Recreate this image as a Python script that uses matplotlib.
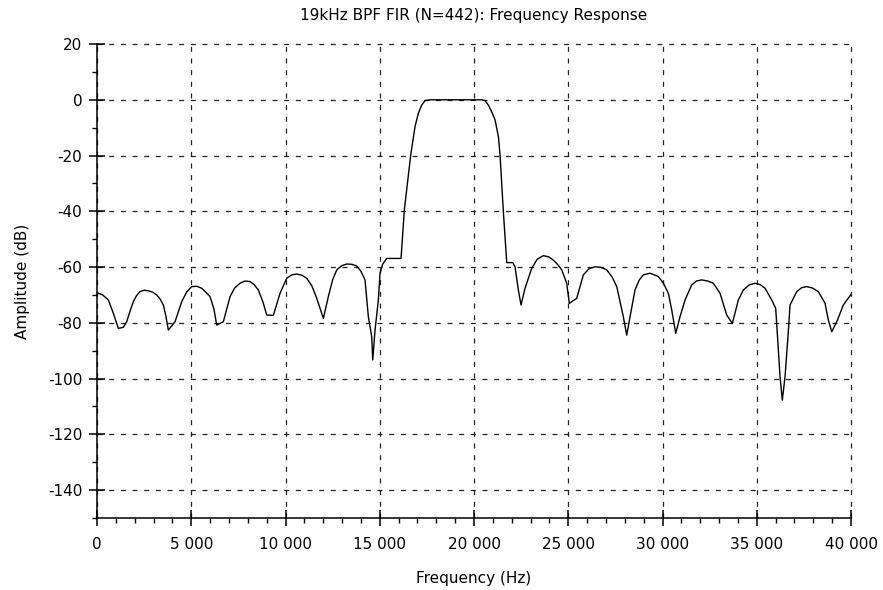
import matplotlib
matplotlib.use('Agg')
import matplotlib.pyplot as plt
import matplotlib.ticker as mticker
import numpy as np

# frequency response points (Hz, dB)
freq_hz = [
    0, 300, 600, 865, 1130, 1395, 1575, 1750, 1925, 2100, 2281, 2500, 2722,
    2950, 3167, 3350, 3517, 3650, 3783,
    4138, 4493, 4750, 5023, 5300, 5554, 5800, 5995, 6200, 6350,
    6700, 7056, 7300, 7586, 7850, 8117, 8350, 8557, 8800, 9003, 9353,
    9708, 10063, 10330, 10594, 10860, 11125, 11400, 11655, 12007,
    12271, 12500, 12716, 12980, 13246, 13510, 13777, 14000, 14217,
    14393, 14573, 14626, 14748, 14923, 15013, 15150, 15366,
    16127, 16303, 16641, 16870, 17047, 17224, 17400, 17665,
    20408, 20583, 20759, 20937, 21114, 21292, 21380, 21555, 21735,
    22052, 22175, 22351, 22493, 22706, 23061, 23350, 23676, 23950, 24206,
    24452, 24652, 24917, 25055, 25448, 25798, 26100, 26419, 26730, 27040,
    27320, 27570, 27920, 28100, 28276, 28541, 28760, 28981, 29337,
    29778, 30050, 30309, 30488, 30700, 30928, 31194, 31548, 31800, 32079,
    32400, 32695, 33050, 33405, 33705, 34022, 34288, 34600, 34907, 35180,
    35437, 35792, 36004, 36144, 36233, 36355, 36499, 36642, 36764,
    37119, 37380, 37649, 37950, 38265, 38621, 38796, 38977, 39242, 39592, 40000,
]
amp_db = [
    -69.2, -70.0, -71.8, -76.6, -82.0, -81.6, -79.6, -75.8, -72.4, -70.2, -68.8,
    -68.3, -68.5, -69.0, -70.0, -71.5, -73.6, -77.5, -82.6,
    -79.6, -72.4, -69.0, -67.0, -66.9, -67.6, -69.2, -70.6, -75.0, -80.8,
    -79.6, -70.6, -67.5, -65.8, -65.0, -65.2, -66.4, -68.2, -72.5, -77.2, -77.3,
    -69.4, -64.0, -62.8, -62.5, -62.9, -64.0, -66.8, -71.2, -78.4,
    -70.6, -64.5, -61.0, -59.5, -58.9, -59.0, -59.6, -61.5, -64.6,
    -77.8, -85.0, -93.3, -82.6, -71.8, -62.2, -59.0, -56.9,
    -56.9, -39.5, -19.8, -9.6, -4.8, -1.9, -0.3, 0.0,
    0.0, -0.3, -1.9, -4.3, -7.2, -13.2, -19.8, -40.1, -58.4,
    -58.4, -59.9, -68.2, -73.6, -67.6, -60.4, -57.2, -55.9, -56.3, -57.5,
    -59.2, -61.0, -65.8, -73.0, -71.2, -62.8, -60.6, -59.9, -60.1, -61.0,
    -63.5, -67.0, -77.8, -84.4, -77.8, -68.2, -64.7, -62.8, -62.2,
    -63.4, -65.8, -69.4, -75.4, -83.8, -77.8, -71.8, -66.4, -65.0, -64.6,
    -65.0, -65.8, -69.4, -77.2, -80.2, -71.8, -68.2, -66.4, -65.8, -66.3,
    -67.6, -71.8, -74.8, -89.7, -99.3, -107.7, -99.3, -86.2, -73.6,
    -68.8, -67.4, -67.0, -67.5, -68.8, -73.0, -79.0, -83.2, -79.6, -73.6, -69.8,
]

x_ticks = np.arange(0, 40001, 5000)
y_ticks = np.arange(-140, 21, 20)

plt.rcParams['font.family'] = ['DejaVu Sans']
plt.rcParams['axes.unicode_minus'] = False
plt.rcParams['lines.scale_dashes'] = False

fig = plt.figure(figsize=(8.83, 5.90), dpi=100)
ax = fig.add_axes([0.1099, 0.1220, 0.8539, 0.8034])

ax.plot(freq_hz, amp_db, color='black', linewidth=1.0)

ax.set_xlim(0, 40000)
ax.set_ylim(-150, 20)
ax.set_xticks(x_ticks)
ax.set_yticks(y_ticks)
ax.xaxis.set_minor_locator(mticker.MultipleLocator(1000))
ax.yaxis.set_minor_locator(mticker.MultipleLocator(10))
ax.xaxis.set_major_formatter(
    mticker.FuncFormatter(lambda v, p: '{:,}'.format(int(v)).replace(',', ' ')))

ax.grid(True, which='major', color='#222222', linewidth=0.9,
        linestyle=(0, (3.6, 4.8)))
ax.set_axisbelow(True)
# keep the edge grid lines (20 dB, 40 kHz) from being cut in half
for gl in ax.get_xgridlines() + ax.get_ygridlines():
    gl.set_clip_on(False)

for side in ['top', 'right']:
    ax.spines[side].set_visible(False)
for side in ['left', 'bottom']:
    ax.spines[side].set_linewidth(1.1)

ax.tick_params(which='major', direction='inout', length=11, width=1.1,
               labelsize=11)
ax.tick_params(axis='x', which='major', pad=8)
ax.tick_params(axis='y', which='major', pad=5)
ax.tick_params(which='minor', direction='out', length=3.5, width=1.0)

ax.set_title('19kHz BPF FIR (N=442): Frequency Response', fontsize=11, pad=17)
ax.set_xlabel('Frequency (Hz)', fontsize=11, labelpad=14)
ax.set_ylabel('Amplitude (dB)', fontsize=11, labelpad=13)

fig.savefig('out.png', dpi=100, facecolor='white')
